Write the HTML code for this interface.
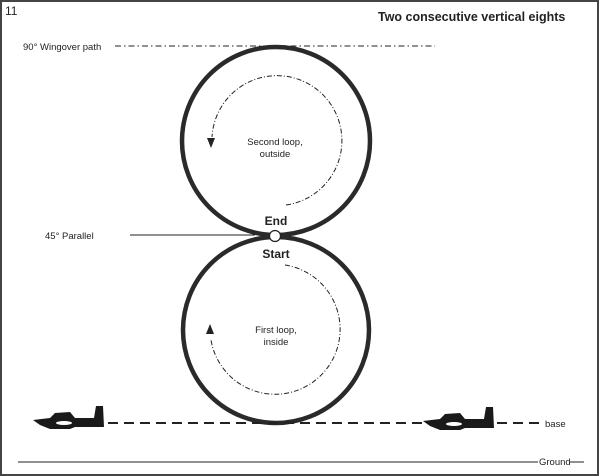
<!DOCTYPE html>
<html><head><style>
html,body{margin:0;padding:0;background:#fff}
svg{display:block}
text{font-family:"Liberation Sans",sans-serif;fill:#222}
</style></head><body>
<svg width="600" height="476" viewBox="0 0 600 476" xmlns="http://www.w3.org/2000/svg">
<rect x="1" y="1" width="597" height="474" fill="#fff" stroke="#444" stroke-width="2"/>
<text x="5" y="15" font-size="12">11</text>
<text x="378" y="21" font-size="12.5" font-weight="bold">Two consecutive vertical eights</text>
<text x="23" y="50" font-size="9.5">90° Wingover path</text>
<line x1="115" y1="46" x2="435" y2="46" stroke="#222" stroke-width="1" stroke-dasharray="6,3,1.5,3"/>
<circle cx="276" cy="141" r="94" fill="none" stroke="#2a2a2a" stroke-width="4.5"/>
<circle cx="276" cy="330" r="93" fill="none" stroke="#2a2a2a" stroke-width="4.5"/>
<!-- top inner arc -->
<path d="M286 205 A65 65 0 1 0 212 137" fill="none" stroke="#222" stroke-width="1" stroke-dasharray="5,2,1,2"/>
<path d="M207 138 L211 148 L215 138 Z" fill="#222"/>
<!-- bottom inner arc -->
<path d="M285 265 A65 65 0 1 1 211 340" fill="none" stroke="#222" stroke-width="1" stroke-dasharray="5,2,1,2"/>
<path d="M206 334 L210 324 L214 334 Z" fill="#222"/>
<text x="275" y="145" font-size="9.5" text-anchor="middle">Second loop,</text>
<text x="275" y="157" font-size="9.5" text-anchor="middle">outside</text>
<text x="276" y="333" font-size="9.5" text-anchor="middle">First loop,</text>
<text x="276" y="345" font-size="9.5" text-anchor="middle">inside</text>
<line x1="130" y1="235" x2="255" y2="235" stroke="#222" stroke-width="1"/>
<text x="45" y="239" font-size="9.5">45° Parallel</text>
<circle cx="275" cy="236" r="5.5" fill="#fff" stroke="#222" stroke-width="1.2"/>
<text x="276" y="225" font-size="12" font-weight="bold" text-anchor="middle">End</text>
<text x="276" y="258" font-size="12" font-weight="bold" text-anchor="middle">Start</text>
<line x1="108" y1="423" x2="470" y2="423" stroke="#222" stroke-width="2" stroke-dasharray="10,6"/>
<line x1="497" y1="423" x2="540" y2="423" stroke="#222" stroke-width="2" stroke-dasharray="10,6"/>
<text x="545" y="427" font-size="9.5">base</text>
<line x1="18" y1="462" x2="538" y2="462" stroke="#222" stroke-width="1"/>
<text x="539" y="465" font-size="9.5">Ground</text>
<line x1="570" y1="462" x2="584" y2="462" stroke="#222" stroke-width="1"/>
<g id="plane">
<path d="M33 420 L50 418 L55 413 L70 412 L75 418 L94 418 L96 406 L103 406 L104 427 L75 427 L70 429 L50 429 L40 425 Z" fill="#1a1a1a"/>
<ellipse cx="64" cy="423" rx="8" ry="2" fill="#fff"/>
</g>
<use href="#plane" transform="translate(390,1)"/>
</svg>
</body></html>
